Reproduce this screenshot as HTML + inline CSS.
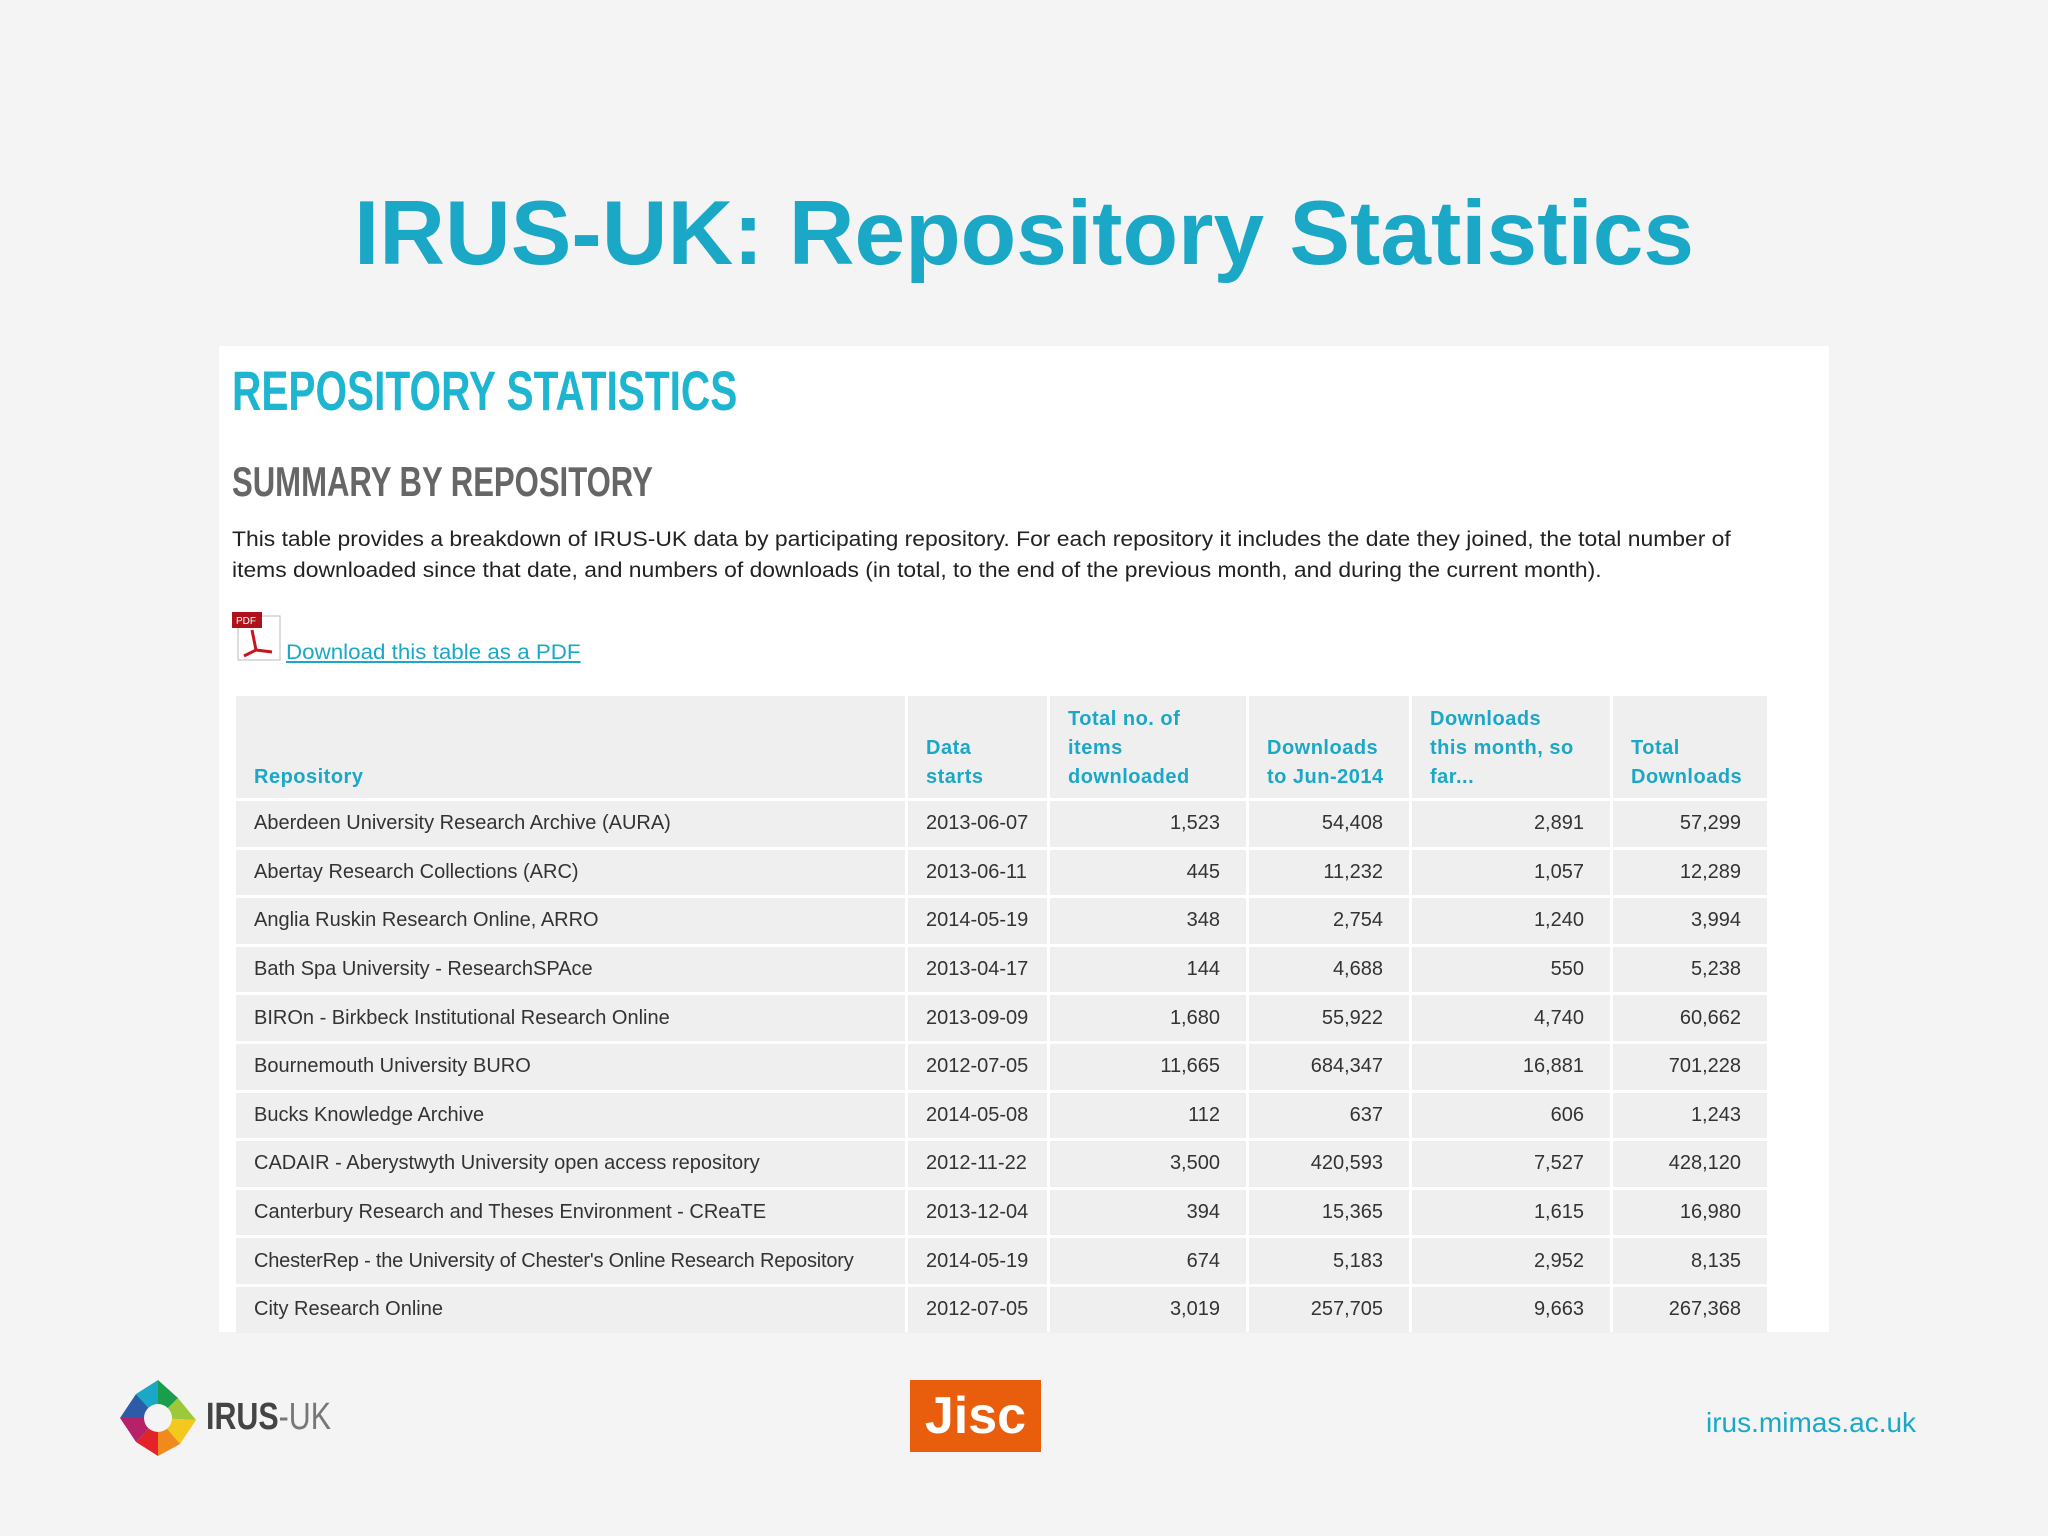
<!DOCTYPE html>
<html><head><meta charset="utf-8">
<style>
html,body{margin:0;padding:0}
body{width:2048px;height:1536px;background:#f4f4f5;position:relative;overflow:hidden;font-family:"Liberation Sans",sans-serif}
.abs{position:absolute;white-space:nowrap}
#title{left:0;width:2048px;top:182px;text-align:center;font-weight:bold;font-size:91px;color:#1ba8c6}
#panel{left:219px;top:346px;width:1610px;height:986px;background:#fff}
#h1{left:232px;top:358px;font-size:56px;font-weight:bold;color:#1db5d0;transform-origin:0 0;transform:scaleX(0.725)}
#h2{left:232px;top:458px;font-size:42px;font-weight:bold;color:#666;transform-origin:0 0;transform:scaleX(0.74)}
.para{left:232px;font-size:21.5px;color:#222;transform-origin:0 0;transform:scaleX(1.064)}
#link{left:286px;top:640px;font-size:21.5px;color:#1ba8c6;text-decoration:underline;transform-origin:0 0;transform:scaleX(1.04)}
table{position:absolute;left:233px;top:693px;border-collapse:separate;border-spacing:3px;font-size:20px;color:#333}
td,th{background:#efeff0;height:45.6px;padding:0}
th{color:#1ba8c6;font-weight:bold;text-align:left;vertical-align:bottom;height:96px;font-size:20px;line-height:29px;padding:0 0 6px 18px;letter-spacing:0.5px}
td{padding:0 0 0 18px}
td.n{text-align:right;padding:0 26px 0 0}
td.d{padding-left:18px}
#url{left:1706px;top:1407px;font-size:28px;color:#1ba8c6}
</style></head>
<body>
<div id="title" class="abs">IRUS-UK: Repository Statistics</div>
<div id="panel" class="abs"></div>
<div id="h1" class="abs">REPOSITORY STATISTICS</div>
<div id="h2" class="abs">SUMMARY BY REPOSITORY</div>
<div class="abs para" style="top:527px">This table provides a breakdown of IRUS-UK data by participating repository. For each repository it includes the date they joined, the total number of</div>
<div class="abs para" style="top:558px">items downloaded since that date, and numbers of downloads (in total, to the end of the previous month, and during the current month).</div>
<svg class="abs" style="left:232px;top:612px" width="52" height="50">
<rect x="6" y="4" width="42" height="44" fill="#fff" stroke="#bbb"/>
<rect x="0" y="0" width="30" height="16" fill="#b0121b"/>
<text x="4" y="12" font-size="10" fill="#fff" font-family="Liberation Sans">PDF</text>
<path d="M20 18 L24 38 L12 44 M24 38 L40 40" stroke="#c4161c" stroke-width="3" fill="none"/>
</svg>
<div id="link" class="abs">Download this table as a PDF</div>
<table>
<tr>
<th style="width:651px">Repository</th>
<th style="width:121px">Data<br>starts</th>
<th style="width:178px">Total no. of<br>items<br>downloaded</th>
<th style="width:142px">Downloads<br>to Jun-2014</th>
<th style="width:180px">Downloads<br>this month, so<br>far...</th>
<th style="width:136px">Total<br>Downloads</th>
</tr>
<tr><td>Aberdeen University Research Archive (AURA)</td><td class="d">2013-06-07</td><td class="n">1,523</td><td class="n">54,408</td><td class="n">2,891</td><td class="n">57,299</td></tr>
<tr><td>Abertay Research Collections (ARC)</td><td class="d">2013-06-11</td><td class="n">445</td><td class="n">11,232</td><td class="n">1,057</td><td class="n">12,289</td></tr>
<tr><td>Anglia Ruskin Research Online, ARRO</td><td class="d">2014-05-19</td><td class="n">348</td><td class="n">2,754</td><td class="n">1,240</td><td class="n">3,994</td></tr>
<tr><td>Bath Spa University - ResearchSPAce</td><td class="d">2013-04-17</td><td class="n">144</td><td class="n">4,688</td><td class="n">550</td><td class="n">5,238</td></tr>
<tr><td>BIROn - Birkbeck Institutional Research Online</td><td class="d">2013-09-09</td><td class="n">1,680</td><td class="n">55,922</td><td class="n">4,740</td><td class="n">60,662</td></tr>
<tr><td>Bournemouth University BURO</td><td class="d">2012-07-05</td><td class="n">11,665</td><td class="n">684,347</td><td class="n">16,881</td><td class="n">701,228</td></tr>
<tr><td>Bucks Knowledge Archive</td><td class="d">2014-05-08</td><td class="n">112</td><td class="n">637</td><td class="n">606</td><td class="n">1,243</td></tr>
<tr><td>CADAIR - Aberystwyth University open access repository</td><td class="d">2012-11-22</td><td class="n">3,500</td><td class="n">420,593</td><td class="n">7,527</td><td class="n">428,120</td></tr>
<tr><td>Canterbury Research and Theses Environment - CReaTE</td><td class="d">2013-12-04</td><td class="n">394</td><td class="n">15,365</td><td class="n">1,615</td><td class="n">16,980</td></tr>
<tr><td style="letter-spacing:-0.2px">ChesterRep - the University of Chester's Online Research Repository</td><td class="d">2014-05-19</td><td class="n">674</td><td class="n">5,183</td><td class="n">2,952</td><td class="n">8,135</td></tr>
<tr><td>City Research Online</td><td class="d">2012-07-05</td><td class="n">3,019</td><td class="n">257,705</td><td class="n">9,663</td><td class="n">267,368</td></tr>
</table>
<svg class="abs" style="left:118px;top:1378px" width="80" height="80">
<polygon points="40,2 60,20 40,40" fill="#1a9e4b"/>
<polygon points="60,20 78,42 40,40" fill="#9cc93a"/>
<polygon points="78,42 62,66 40,40" fill="#f4c81e"/>
<polygon points="62,66 40,78 40,40" fill="#f08a1c"/>
<polygon points="40,78 18,64 40,40" fill="#e2232a"/>
<polygon points="18,64 2,40 40,40" fill="#b72169"/>
<polygon points="2,40 18,16 40,40" fill="#2c5ca8"/>
<polygon points="18,16 40,2 40,40" fill="#19a9c6"/>
<circle cx="40" cy="40" r="14" fill="#f4f4f5"/>
</svg>
<div class="abs" style="left:206px;top:1396px;font-size:38px;font-weight:bold;color:#444;transform-origin:0 0;transform:scaleX(0.8)">IRUS<span style="font-weight:normal;color:#777">-UK</span></div>
<div class="abs" style="left:910px;top:1380px;width:131px;height:72px;background:#e85e0d;color:#fff;font-size:52px;font-weight:bold;text-align:center;line-height:72px">Jisc</div>
<div id="url" class="abs">irus.mimas.ac.uk</div>
</body></html>
